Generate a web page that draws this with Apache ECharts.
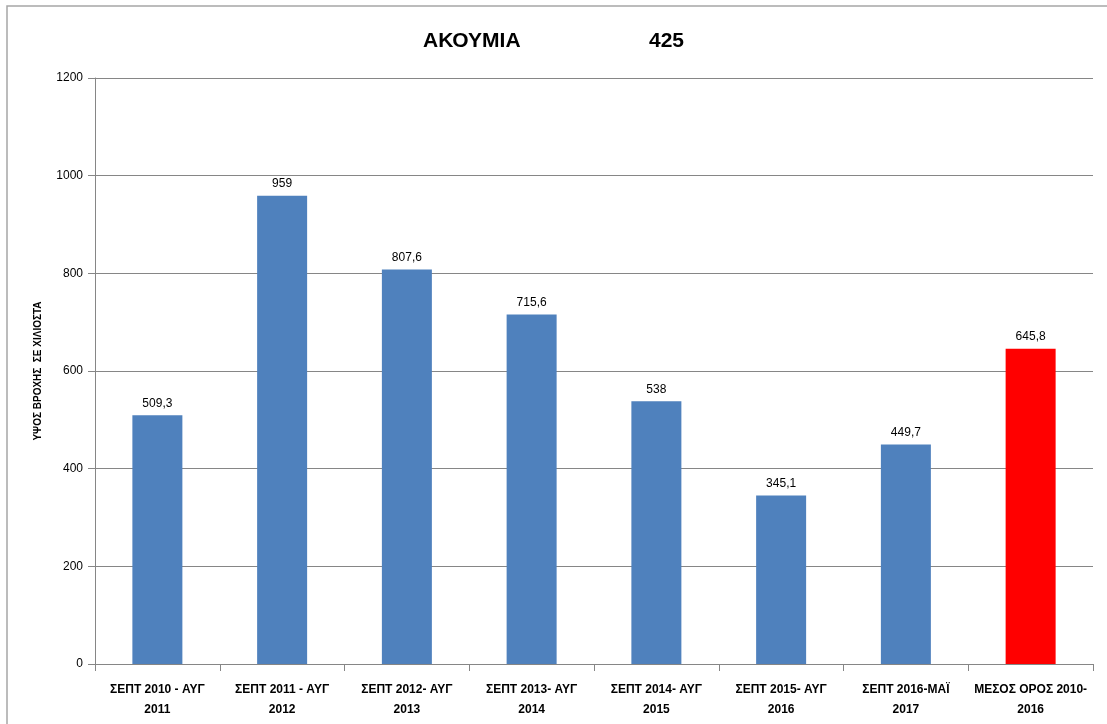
<!DOCTYPE html>
<html>
<head>
<meta charset="utf-8">
<script src="https://cdn.jsdelivr.net/npm/echarts@6/dist/echarts.min.js"></script>
<style>
  html, body { margin: 0; padding: 0; background: #fff; }
  #main { width: 1107px; height: 724px; }
</style>
</head>
<body>
<div id="main"></div>
<script>
var chartDom = document.getElementById('main');
var myChart = echarts.init(chartDom);
var option;

// περίοδοι βροχόπτωσης
var periods = [
    'ΣΕΠΤ 2010 - ΑΥΓ\n2011',
    'ΣΕΠΤ 2011 - ΑΥΓ\n2012',
    'ΣΕΠΤ 2012- ΑΥΓ\n2013',
    'ΣΕΠΤ 2013- ΑΥΓ\n2014',
    'ΣΕΠΤ 2014- ΑΥΓ\n2015',
    'ΣΕΠΤ 2015- ΑΥΓ\n2016',
    'ΣΕΠΤ 2016-ΜΑΪ\n2017',
    'ΜΕΣΟΣ ΟΡΟΣ 2010-\n2016'
];
// ύψος βροχής σε χιλιοστά
var rainfall = [509.3, 959, 807.6, 715.6, 538, 345.1, 449.7, 645.8];
var yTicks = [0, 200, 400, 600, 800, 1000, 1200];

var font = 'Liberation Sans, Arial, sans-serif';

option = {
    animation: false,
    textStyle: { fontFamily: font },
    graphic: [{
        type: 'rect',
        shape: { x: 7, y: 6, width: 1120, height: 740 },
        style: { fill: 'none', stroke: '#a6a6a6', lineWidth: 1.5 },
        silent: true
    }],
    title: {
        text: 'ΑΚΟΥΜΙΑ                      425',
        left: 'center',
        top: 26,
        textStyle: { fontFamily: font, fontSize: 21, fontWeight: 'bold', color: '#000' }
    },
    grid: { left: 95, right: 14, top: 78, bottom: 60 },
    xAxis: {
        type: 'category',
        data: periods,
        axisLine: { lineStyle: { color: '#868686' } },
        axisTick: { show: true, length: 7, lineStyle: { color: '#868686' } },
        axisLabel: {
            interval: 0,
            margin: 16,
            fontSize: 12,
            fontWeight: 'bold',
            color: '#000',
            lineHeight: 20
        }
    },
    yAxis: {
        type: 'value',
        min: 0,
        max: yTicks[yTicks.length - 1],
        interval: 200,
        name: 'ΥΨΟΣ ΒΡΟΧΗΣ  ΣΕ ΧΙΛΙΟΣΤΑ',
        nameLocation: 'middle',
        nameGap: 52,
        nameRotate: 90,
        nameTextStyle: { fontFamily: font, fontSize: 10, fontWeight: 'bold', color: '#000' },
        axisLine: { show: true, lineStyle: { color: '#868686' } },
        axisTick: { show: true, length: 7, lineStyle: { color: '#868686' } },
        splitLine: { lineStyle: { color: '#868686' } },
        axisLabel: {
            fontSize: 12,
            color: '#000',
            margin: 12,
            formatter: function (v) { return String(v); }
        }
    },
    series: [{
        type: 'bar',
        barWidth: 50,
        data: rainfall.map(function (v, i) {
            return {
                value: v,
                itemStyle: { color: i === rainfall.length - 1 ? '#ff0000' : '#4f81bd' }
            };
        }),
        label: {
            show: true,
            position: 'top',
            distance: 6,
            fontSize: 12,
            color: '#000',
            formatter: function (p) {
                return String(p.value).replace('.', ',');
            }
        }
    }]
};

option && myChart.setOption(option);
</script>
</body>
</html>
